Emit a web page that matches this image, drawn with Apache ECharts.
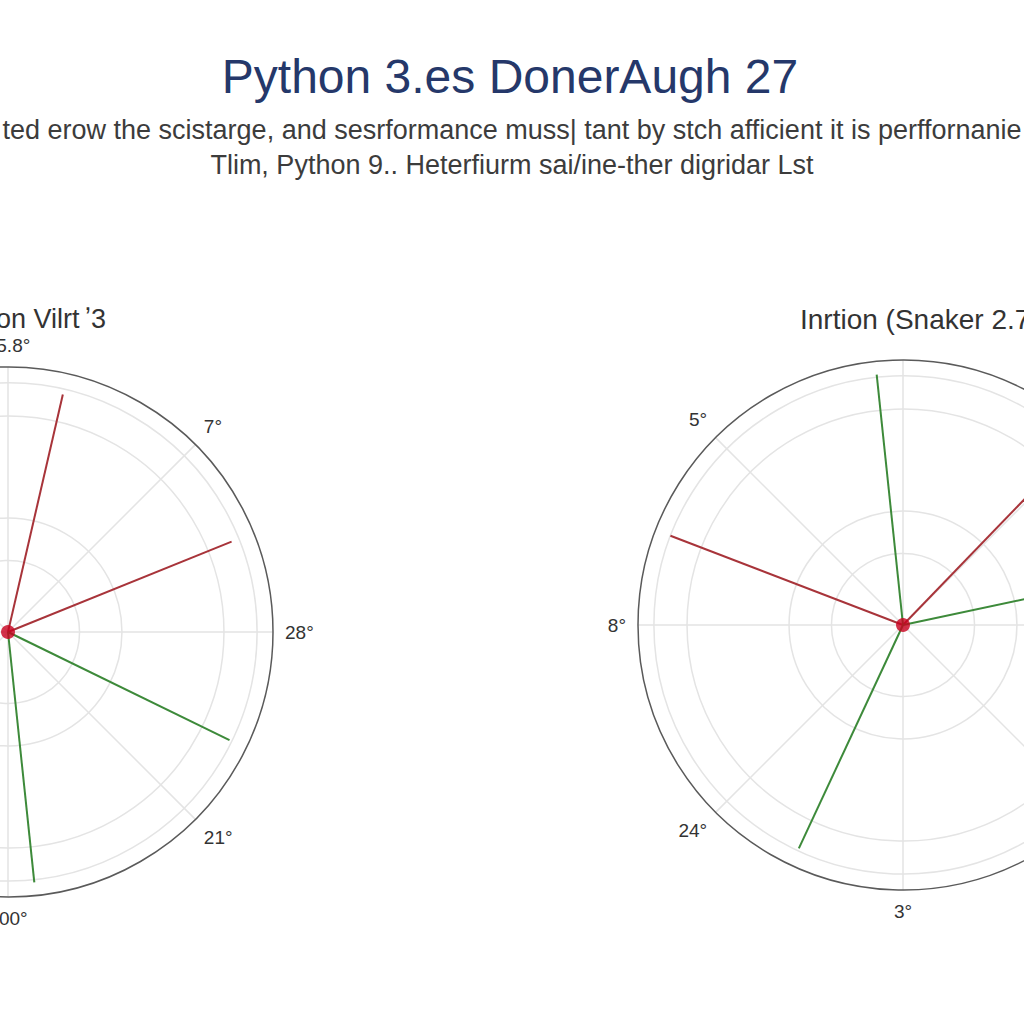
<!DOCTYPE html>
<html>
<head>
<meta charset="utf-8">
<script src="https://cdn.jsdelivr.net/npm/echarts@6/dist/echarts.min.js"></script>
<style>html,body{margin:0;padding:0;background:#fff}#c{width:1024px;height:1024px}</style>
</head>
<body>
<div id="c"></div>
<script>
// ---- text ----
const mainTitle = 'Python 3.es DonerAugh 27';
const subLine1 = 'ted erow the scistarge, and sesrformance muss| tant by stch afficient it is perffornanie';
const subLine2 = 'Tlim, Python 9.. Heterfiurm sai/ine-ther digridar Lst';
const leftTitle = 'Python Vilrt\u2009\u02BC3';
const rightTitle = 'Inrtion (Snaker 2.7)';

// ---- angle tick labels (0°,45°,...,315°, counter-clockwise from 3 o'clock) ----
const leftTickLabels  = ['28°', '7°', '15.8°', '', '', '', '100°', '21°'];
const rightTickLabels = ['', '', '', '5°', '8°', '24°', '3°', ''];

// ---- spokes: angle (deg) and length (radius axis 0-100) ----
const leftRedAngles   = [77, 22];
const leftRedValues   = [92, 91];
const leftGreenAngles = [334, 276];
const leftGreenValues = [93, 95];
const rightRedAngles   = [159, 46];
const rightRedValues   = [94, 93];
const rightGreenAngles = [96, 245, 12];
const rightGreenValues = [95, 93, 94];

// ---- ring radii (fraction of outer radius) ----
const ringFractions = [0.27, 0.43, 0.815, 0.94];

const R = 265;
const FONT = '"Liberation Sans", Arial, sans-serif';
const charts = [
  {center: [8, 632], labels: leftTickLabels,
   red: [leftRedAngles, leftRedValues], green: [leftGreenAngles, leftGreenValues]},
  {center: [903, 625], labels: rightTickLabels,
   red: [rightRedAngles, rightRedValues], green: [rightGreenAngles, rightGreenValues]}
];

const polar = [], angleAxis = [], radiusAxis = [], series = [];
const RED = '#a8343a', GREEN = '#3d8a3a', DOT = '#c8001e';

charts.forEach(function (ch) {
  const pi = polar.length;
  polar.push({center: ch.center, radius: R});
  angleAxis.push({
    polarIndex: pi, type: 'value', min: 0, max: 360, interval: 45,
    startAngle: 0, clockwise: false,
    axisLine: {show: true, lineStyle: {color: '#5a5a5a', width: 1.5}},
    axisTick: {show: false},
    splitLine: {show: true, lineStyle: {color: '#e4e4e4', width: 1.5}},
    axisLabel: {
      show: true, margin: 12, color: '#333', fontSize: 19, fontFamily: FONT,
      formatter: function (v) { return v >= 360 ? '' : ch.labels[Math.round(v / 45)]; }
    }
  });
  radiusAxis.push({
    polarIndex: pi, type: 'value', min: 0, max: 100,
    axisLine: {show: false}, axisTick: {show: false}, axisLabel: {show: false},
    splitLine: {show: false}
  });
  // rings
  ringFractions.forEach(function (f) {
    const ri = polar.length;
    polar.push({center: ch.center, radius: R * f});
    angleAxis.push({
      polarIndex: ri, type: 'value', min: 0, max: 360, startAngle: 0,
      axisLine: {show: true, lineStyle: {color: '#e4e4e4', width: 1.5}},
      axisTick: {show: false}, axisLabel: {show: false}, splitLine: {show: false}
    });
    radiusAxis.push({
      polarIndex: ri, type: 'value', min: 0, max: 100,
      axisLine: {show: false}, axisTick: {show: false}, axisLabel: {show: false},
      splitLine: {show: false}
    });
  });
  // spokes
  [[ch.red, RED], [ch.green, GREEN]].forEach(function (pair) {
    const angles = pair[0][0], vals = pair[0][1];
    angles.forEach(function (a, i) {
      series.push({
        type: 'line', coordinateSystem: 'polar', polarIndex: pi,
        data: [[0, a], [vals[i], a]], symbol: 'none', silent: true,
        lineStyle: {color: pair[1], width: 2}, z: 3
      });
    });
  });
  // centre dot
  series.push({
    type: 'scatter', coordinateSystem: 'polar', polarIndex: pi,
    data: [[0, 0]], symbolSize: 14, itemStyle: {color: DOT}, z: 5, silent: true
  });
});

const chart = echarts.init(document.getElementById('c'), null, {renderer: 'svg'});
chart.setOption({
  backgroundColor: '#ffffff',
  animation: false,
  polar: polar,
  angleAxis: angleAxis,
  radiusAxis: radiusAxis,
  series: series,
  graphic: [
    {type: 'text', x: 510, y: 76, style: {text: mainTitle, font: '48px ' + FONT, fill: '#25386a', align: 'center', textAlign: 'center', verticalAlign: 'middle', textVerticalAlign: 'middle'}},
    {type: 'text', x: 512, y: 130, style: {text: subLine1, font: '27px ' + FONT, fill: '#3c3c3c', align: 'center', textAlign: 'center', verticalAlign: 'middle', textVerticalAlign: 'middle'}},
    {type: 'text', x: 512, y: 165, style: {text: subLine2, font: '27px ' + FONT, fill: '#3c3c3c', align: 'center', textAlign: 'center', verticalAlign: 'middle', textVerticalAlign: 'middle'}},
    {type: 'text', x: 106, y: 319, style: {text: leftTitle, font: '27px ' + FONT, fill: '#333', align: 'right', textAlign: 'right', verticalAlign: 'middle', textVerticalAlign: 'middle'}},
    {type: 'text', x: 800, y: 319, style: {text: rightTitle, font: '28px ' + FONT, fill: '#333', align: 'left', textAlign: 'left', verticalAlign: 'middle', textVerticalAlign: 'middle'}}
  ]
});
</script>
</body>
</html>
